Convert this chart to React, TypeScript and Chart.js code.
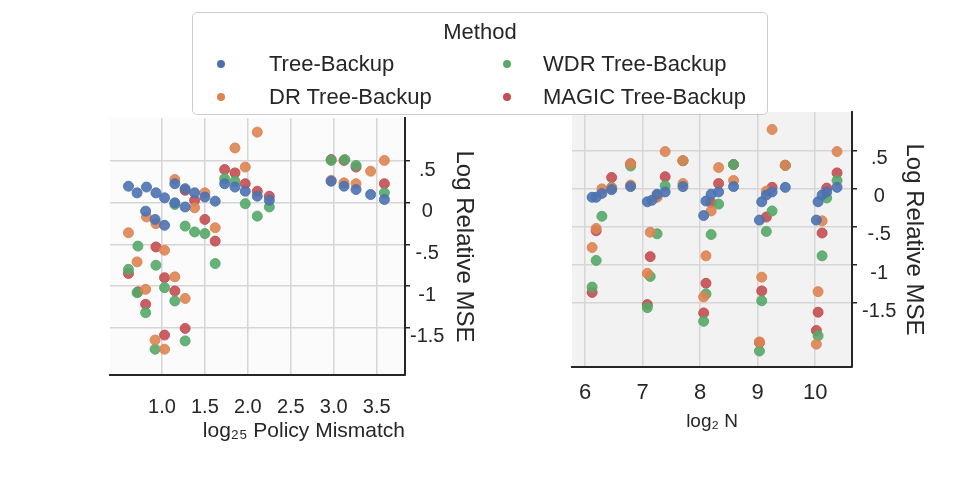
import { useEffect, useRef } from "react";
import { Chart, registerables } from "chart.js";

Chart.register(...registerables);

const METHODS = ["Tree-Backup", "DR Tree-Backup", "WDR Tree-Backup", "MAGIC Tree-Backup"];
const COLORS = ["#4C72B0", "#DD8452", "#55A868", "#C44E52"];

const Y_TICKS = [-1.5, -1, -0.5, 0, 0.5];
const Y_TICK_LABELS = ["-1.5", "-1", "-.5", "0", ".5"];
const MISMATCH_TICKS = [1.0, 1.5, 2.0, 2.5, 3.0, 3.5];
const N_TICKS = [6, 7, 8, 9, 10];

// left panel: log25 policy mismatch vs log relative MSE
const LEFT_TB = [[0.61,0.20],[0.71,0.12],[0.82,0.19],[0.93,0.12],[1.03,0.06],[1.15,0.0],[1.27,-0.05],[1.15,0.23],[1.27,0.17],[1.38,0.12],[1.50,0.07],[1.62,0.02],[1.73,0.23],[1.85,0.19],[1.97,0.14],[2.11,0.08],[2.25,0.03],[0.81,-0.10],[0.92,-0.20],[1.03,-0.27],[2.97,0.26],[3.12,0.20],[3.26,0.16],[3.43,0.10],[3.59,0.04]];
const LEFT_DR = [[2.11,0.85],[1.85,0.66],[1.97,0.43],[1.15,0.28],[1.50,0.12],[1.38,-0.06],[0.82,-0.17],[0.93,-0.25],[0.61,-0.36],[1.03,-0.57],[1.62,-0.30],[0.71,-0.71],[0.81,-1.04],[1.15,-0.89],[1.27,-1.15],[0.92,-1.65],[1.03,-1.76],[3.59,0.51],[3.43,0.38],[3.26,0.23],[3.12,0.24],[2.97,0.27]];
const LEFT_WDR = [[1.85,0.26],[1.73,0.29],[1.97,-0.01],[2.11,-0.16],[2.25,-0.05],[1.15,-0.02],[1.27,-0.28],[1.38,-0.35],[1.50,-0.37],[1.62,-0.73],[0.72,-0.52],[0.93,-0.75],[0.61,-0.80],[0.71,-1.08],[0.81,-1.32],[1.03,-1.02],[1.15,-1.18],[1.27,-1.66],[0.92,-1.76],[3.13,0.52],[2.97,0.51],[3.26,0.45],[3.59,0.12]];
const LEFT_MAGIC = [[1.73,0.40],[1.85,0.36],[1.97,0.23],[2.11,0.14],[2.25,0.08],[1.27,0.15],[1.38,0.03],[1.50,-0.20],[1.62,-0.46],[0.93,-0.53],[0.61,-0.85],[0.72,-1.07],[1.03,-0.90],[1.15,-1.06],[0.81,-1.22],[1.27,-1.51],[1.03,-1.59],[2.97,0.52],[3.12,0.51],[3.26,0.43],[3.59,0.23]];

// right panel: log2 N vs log relative MSE
const RIGHT_TB = [[6.12,-0.11],[6.19,-0.11],[6.29,-0.06],[6.46,-0.01],[6.79,0.03],[7.08,-0.17],[7.16,-0.15],[7.25,-0.07],[7.39,-0.04],[7.70,0.03],[8.06,-0.35],[8.10,-0.16],[8.19,-0.07],[8.32,-0.04],[8.58,0.03],[9.03,-0.41],[9.07,-0.17],[9.15,-0.08],[9.25,-0.04],[9.48,0.02],[10.02,-0.41],[10.05,-0.17],[10.12,-0.08],[10.20,-0.04],[10.38,0.02]];
const RIGHT_DR = [[6.19,-0.52],[6.12,-0.77],[6.29,0.0],[6.46,0.01],[6.79,0.05],[6.79,0.33],[7.13,-0.57],[7.08,-1.11],[7.25,-0.11],[7.39,0.49],[7.70,0.07],[7.70,0.37],[8.10,-0.88],[8.06,-1.42],[8.19,-0.29],[8.32,0.28],[8.58,0.11],[9.07,-1.16],[9.03,-2.01],[9.15,-0.03],[9.25,0.78],[9.48,0.31],[10.05,-1.35],[10.02,-2.04],[10.12,-0.42],[10.38,0.49]];
const RIGHT_WDR = [[6.29,-0.36],[6.19,-0.94],[6.12,-1.29],[6.46,0.02],[6.79,0.30],[7.25,-0.59],[7.13,-1.15],[7.08,-1.56],[7.39,0.04],[7.70,0.37],[8.19,-0.60],[8.10,-1.38],[8.06,-1.74],[8.32,-0.20],[8.58,0.32],[9.15,-0.56],[9.07,-1.47],[9.03,-2.13],[9.25,-0.29],[9.48,0.31],[10.12,-0.88],[10.05,-1.93],[10.20,-0.12],[10.38,0.11]];
const RIGHT_MAGIC = [[6.19,-0.55],[6.12,-1.36],[6.46,0.15],[6.79,0.33],[7.13,-0.89],[7.08,-1.52],[7.25,-0.09],[7.39,0.16],[7.70,0.37],[8.10,-1.24],[8.06,-1.63],[8.19,-0.18],[8.32,0.07],[8.58,0.32],[9.07,-1.34],[9.03,-2.02],[9.15,-0.37],[9.25,0.02],[9.48,0.31],[10.12,-0.58],[10.05,-1.62],[10.02,-1.86],[10.20,0.01],[10.38,0.21]];

const FONT = "'Liberation Sans', Arial, sans-serif";
const DARK = "#262626";

type PanelProps = {
  series: number[][][];
  xMin: number;
  xMax: number;
  xTicks: number[];
  xFmt: (v: number) => string;
  xTitle: string;
  xTitleSize: number;
  xTitleAlign: "start" | "center" | "end";
  xTickSize: number;
  xTickPad: number;
  yMin: number;
  yMax: number;
  yTickPad: number;
  pad: { left: number; top: number; right: number; bottom: number };
  yWidth: number;
  xHeight: number;
  labelOffset: number;
  bg: string;
  left: number;
};

const Panel = (p: PanelProps) => {
  const canvasRef = useRef<HTMLCanvasElement | null>(null);

  useEffect(() => {
    if (!canvasRef.current) return;
    const bgPlugin = {
      id: "paneBg",
      beforeDraw: (chart: Chart) => {
        const { ctx, chartArea } = chart;
        ctx.save();
        ctx.fillStyle = p.bg;
        ctx.fillRect(chartArea.left, chartArea.top, chartArea.right - chartArea.left, chartArea.bottom - chartArea.top);
        ctx.restore();
      },
    };
    const chart = new Chart(canvasRef.current, {
      type: "scatter",
      data: {
        datasets: p.series.map((pts, i) => ({
          label: METHODS[i],
          data: pts.map(([x, y]) => ({ x, y })),
          backgroundColor: COLORS[i] + "e6",
          borderColor: COLORS[i] + "e6",
          pointRadius: 5,
          borderWidth: 1,
        })),
      },
      options: {
        animation: false,
        responsive: false,
        layout: { padding: p.pad },
        plugins: { legend: { display: false }, tooltip: { enabled: false } },
        scales: {
          x: {
            type: "linear",
            min: p.xMin,
            max: p.xMax,
            afterBuildTicks: (s: any) => {
              s.ticks = p.xTicks.map((v) => ({ value: v }));
            },
            afterFit: (s: any) => {
              s.height = p.xHeight;
            },
            ticks: {
              callback: (v: any) => p.xFmt(Number(v)),
              font: { family: FONT, size: p.xTickSize },
              color: DARK,
              padding: p.xTickPad,
              maxRotation: 0,
            },
            grid: { color: "#d6d6d6", lineWidth: 1.5, drawTicks: false },
            border: { color: DARK, width: 2 },
            title: {
              display: true,
              text: p.xTitle,
              align: p.xTitleAlign,
              color: DARK,
              font: { family: FONT, size: p.xTitleSize },
              padding: { top: 0, bottom: 2 },
            },
          },
          y: {
            type: "linear",
            position: "right",
            min: p.yMin,
            max: p.yMax,
            afterBuildTicks: (s: any) => {
              s.ticks = Y_TICKS.map((v) => ({ value: v }));
            },
            afterFit: (s: any) => {
              s.width = p.yWidth;
            },
            ticks: {
              callback: (v: any) => {
                const i = Y_TICKS.indexOf(Number(v));
                return i >= 0 ? Y_TICK_LABELS[i] : "";
              },
              font: { family: FONT, size: 20 },
              color: DARK,
              padding: p.yTickPad,
              crossAlign: "center",
              labelOffset: p.labelOffset,
            },
            grid: { color: "#d6d6d6", lineWidth: 1.5, tickColor: DARK, tickLength: 5 },
            border: { color: DARK, width: 2 },
            title: {
              display: true,
              text: "Log Relative MSE",
              color: DARK,
              font: { family: FONT, size: 24 },
              padding: 2,
            },
          },
        },
      },
      plugins: [bgPlugin],
    });
    return () => chart.destroy();
    // eslint-disable-next-line react-hooks/exhaustive-deps
  }, []);

  return (
    <canvas
      ref={canvasRef}
      width={480}
      height={480}
      style={{ position: "absolute", left: p.left, top: 0, width: 480, height: 480 }}
    />
  );
};

const LegendBox = () => (
  <div
    style={{
      position: "absolute",
      left: 192,
      top: 12,
      width: 574,
      height: 101,
      border: "1.5px solid #cccccc",
      borderRadius: 5,
      background: "rgba(255,255,255,0.85)",
      fontFamily: FONT,
      color: DARK,
      zIndex: 2,
    }}
  >
    <div style={{ position: "absolute", left: 0, right: 0, top: 6, textAlign: "center", fontSize: 22 }}>Method</div>
    {METHODS.map((m, i) => {
      const col = i < 2 ? 0 : 1;
      const row = i % 2;
      return (
        <div key={m} style={{ position: "absolute", left: col === 0 ? 24 : 310, top: 38 + row * 33, height: 26, display: "flex", alignItems: "center" }}>
          <span style={{ display: "inline-block", width: 8, height: 8, borderRadius: 4, background: COLORS[i], marginRight: col === 0 ? 44 : 32 }} />
          <span style={{ fontSize: 22 }}>{m}</span>
        </div>
      );
    })}
  </div>
);

export default function App() {
  return (
    <div style={{ position: "fixed", left: 0, top: 0, width: 960, height: 480, background: "#ffffff" }}>
      <Panel
        series={[LEFT_TB, LEFT_DR, LEFT_WDR, LEFT_MAGIC]}
        xMin={0.395}
        xMax={3.83}
        xTicks={MISMATCH_TICKS}
        xFmt={(v) => v.toFixed(1)}
        xTitle="log₂₅ Policy Mismatch"
        xTitleSize={21}
        xTitleAlign="end"
        xTickSize={20}
        xTickPad={20}
        yMin={-2.07}
        yMax={1.02}
        yTickPad={0}
        pad={{ left: 110, top: 118, right: 0, bottom: 34 }}
        yWidth={75}
        xHeight={71}
        labelOffset={9}
        bg="#fbfbfb"
        left={0}
      />
      <Panel
        series={[RIGHT_TB, RIGHT_DR, RIGHT_WDR, RIGHT_MAGIC]}
        xMin={5.77}
        xMax={10.64}
        xTicks={N_TICKS}
        xFmt={(v) => String(v)}
        xTitle="log₂ N"
        xTitleSize={19}
        xTitleAlign="center"
        xTickSize={22}
        xTickPad={13}
        yMin={-2.34}
        yMax={1.01}
        yTickPad={5}
        pad={{ left: 92, top: 112, right: 30, bottom: 45 }}
        yWidth={78}
        xHeight={68}
        labelOffset={8}
        bg="#f2f2f2"
        left={480}
      />
      <LegendBox />
    </div>
  );
}
